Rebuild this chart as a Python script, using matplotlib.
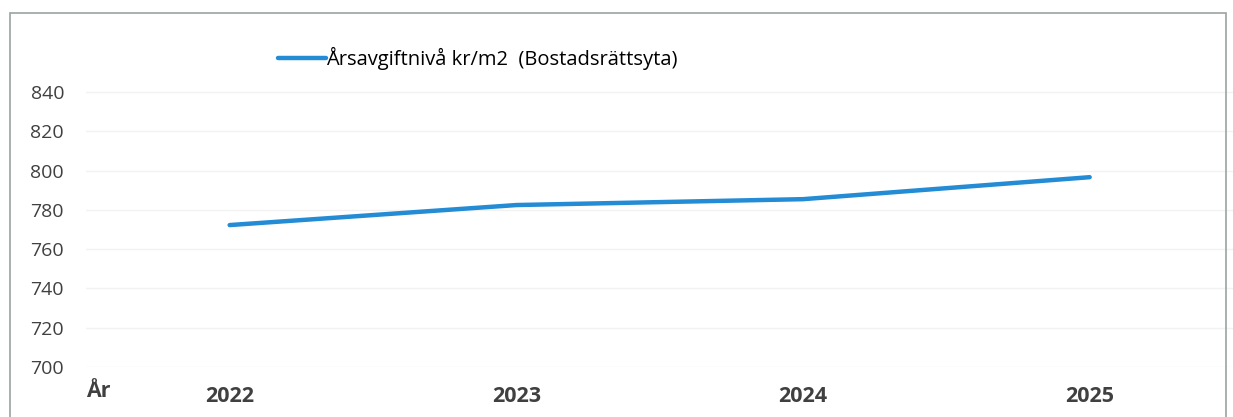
import matplotlib.pyplot as plt
from matplotlib.patches import Rectangle

years = ["2022", "2023", "2024", "2025"]
avgift = [772.3, 782.5, 785.5, 796.7]
yticks = [700, 720, 740, 760, 780, 800, 820, 840]
legend_label = "Årsavgiftnivå kr/m2  (Bostadsrättsyta)"

plt.rcParams['font.family'] = ['Open Sans', 'DejaVu Sans']

fig = plt.figure(figsize=(12.33, 4.17), dpi=100)
ax = fig.add_axes([0.07, 0.12, 0.93, 0.753])

x = range(len(years))
line, = ax.plot(x, avgift, color='#248bd5', lw=3.2, solid_capstyle='round')

ax.set_xlim(-0.5, 3.5)
ax.set_ylim(700, 860)
ax.set_yticks(yticks)
ax.set_yticklabels([str(v) for v in yticks], fontsize=14, color='#404040')
ax.set_xticks(list(x))
ax.set_xticklabels(years, fontsize=15.5, fontweight='bold', color='#404040')
ax.tick_params(length=0, axis='y', pad=16)
ax.tick_params(length=0, axis='x', pad=14)
ax.grid(axis='y', color='#f2f2f2', lw=1)
for s in ax.spines.values():
    s.set_visible(False)

ax.text(-0.5, -0.045, "År", transform=ax.get_xaxis_transform(), fontsize=15.5,
        fontweight='bold', color='#404040', ha='left', va='top')

ax.legend([line], [legend_label], loc='upper left', bbox_to_anchor=(0.16, 1.045),
          frameon=False, fontsize=14.5, handlelength=2.4, handletextpad=0.0,
          borderaxespad=0)

fig.patches.append(Rectangle((10 / 1233, -0.05), 1216 / 1233, 1 - 13 / 417 + 0.05,
                             transform=fig.transFigure, fill=False,
                             edgecolor='#9aa3a3', lw=1.2))

fig.savefig("out.png", dpi=100)
